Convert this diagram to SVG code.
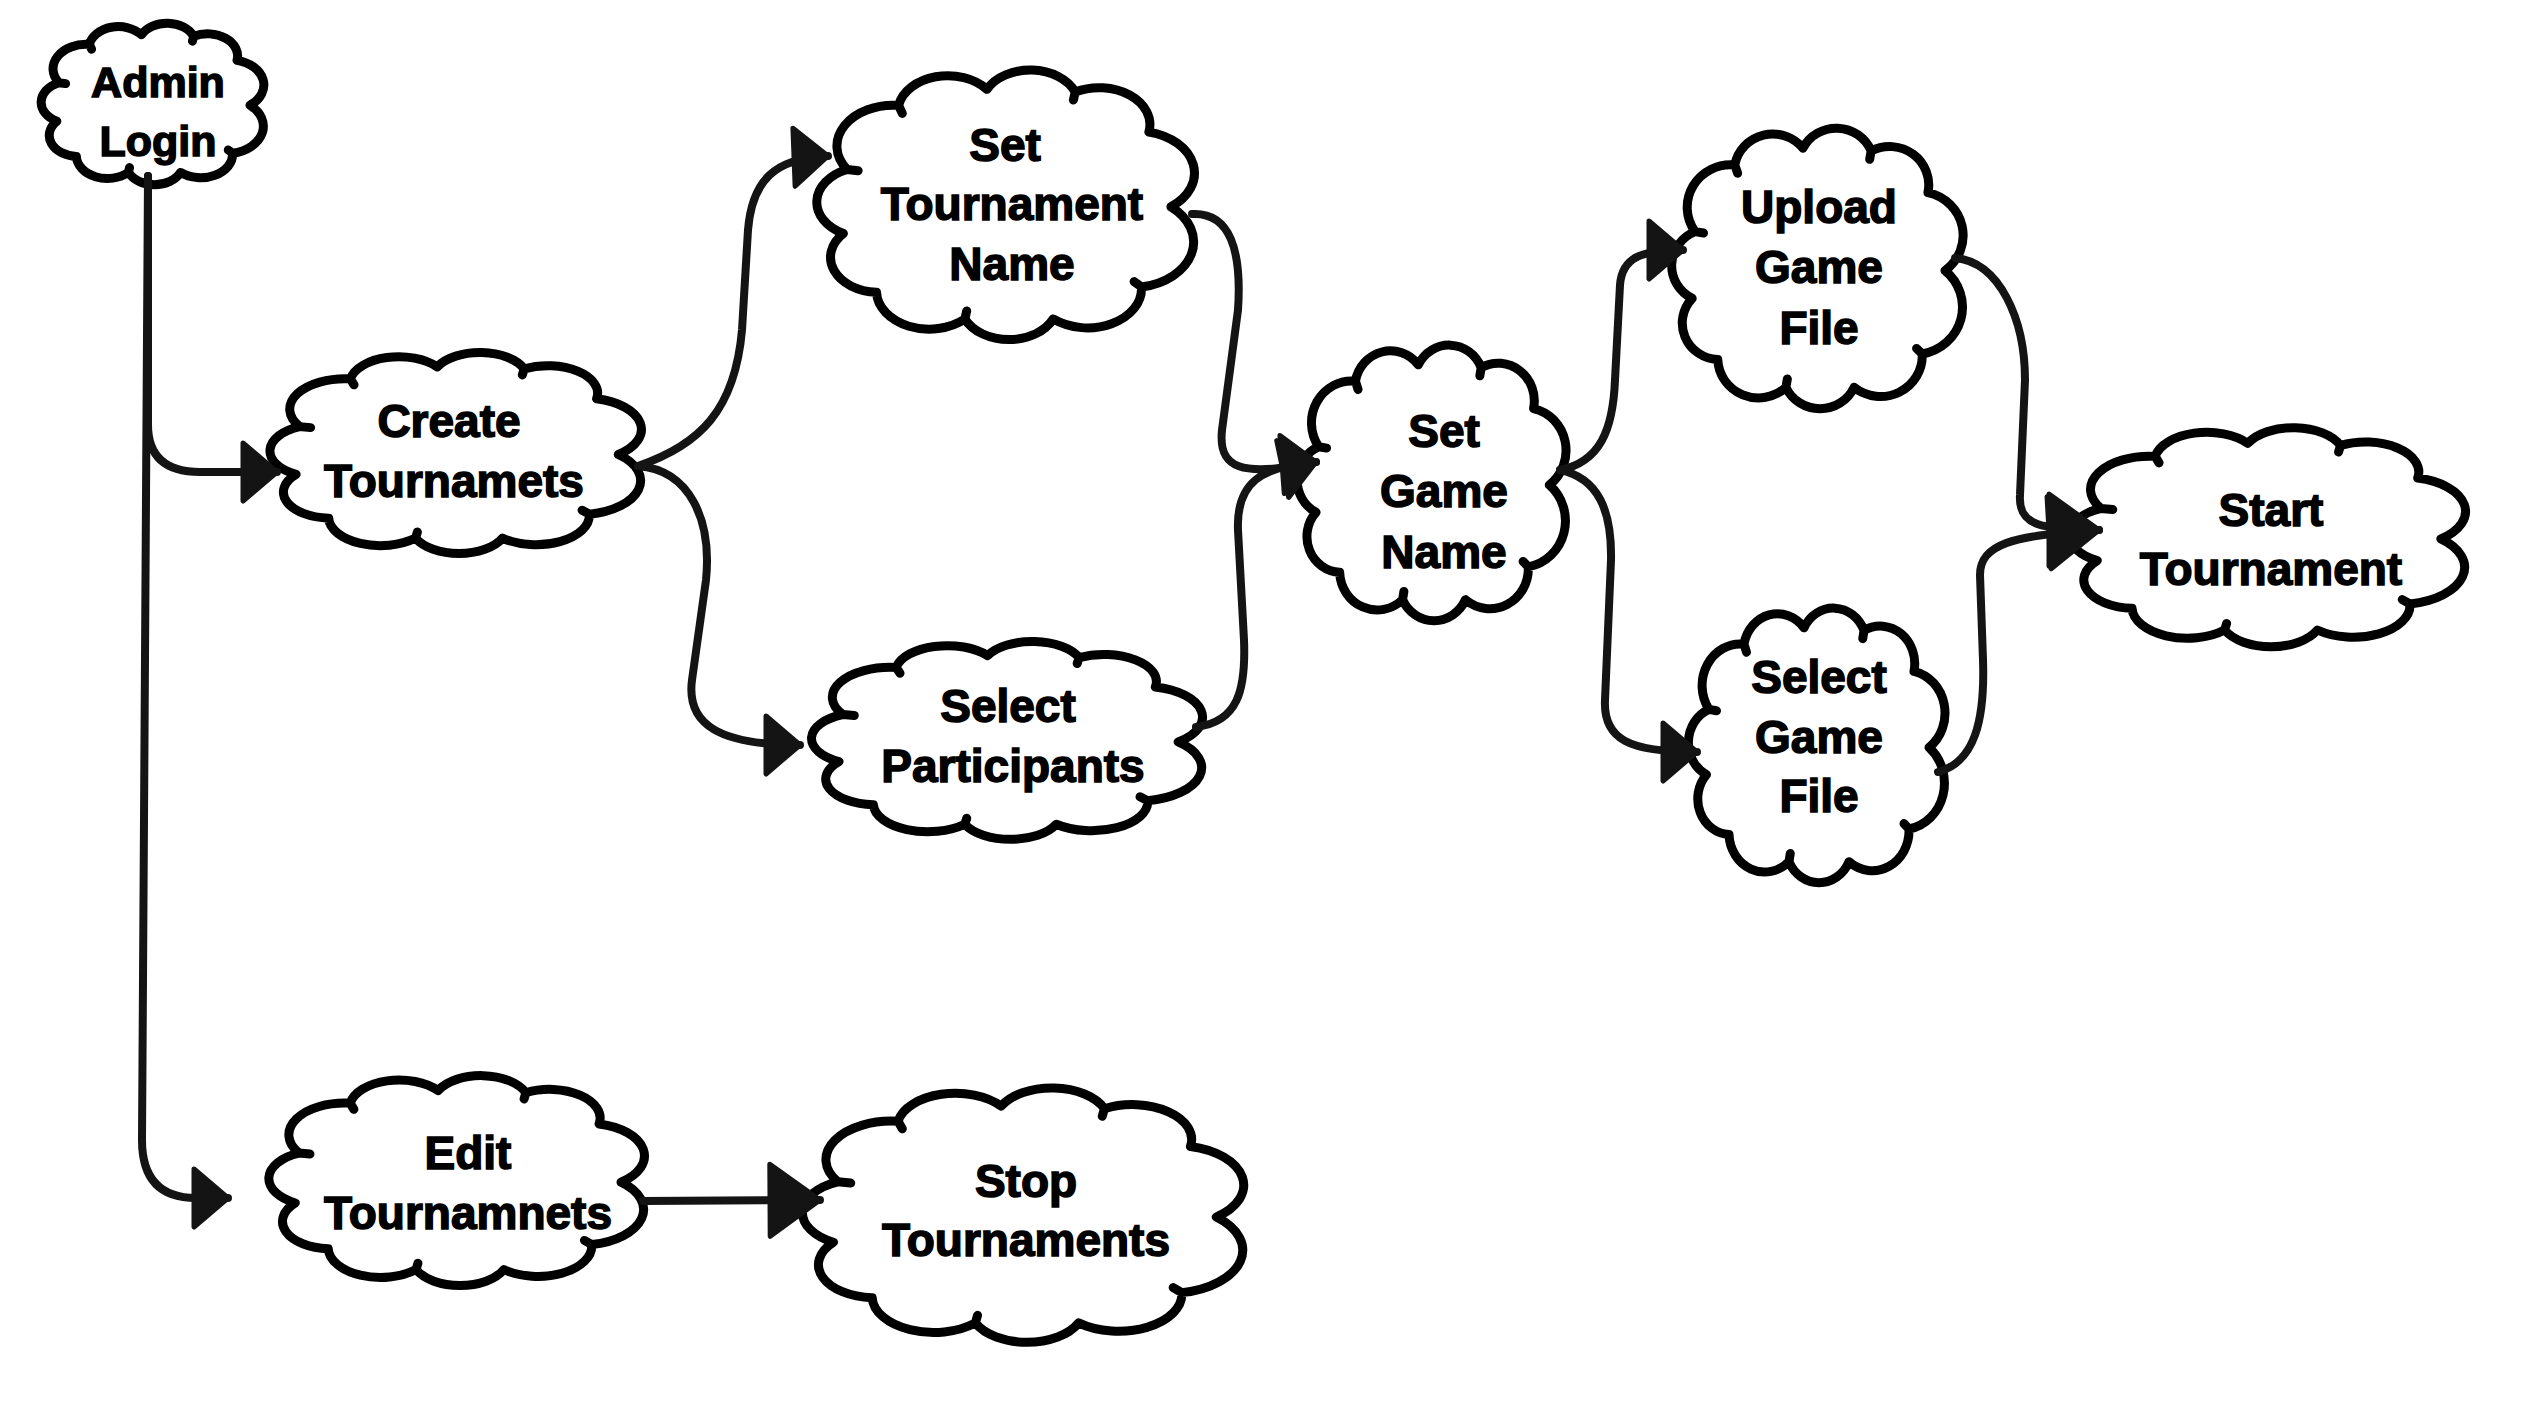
<svg xmlns="http://www.w3.org/2000/svg" xmlns:xlink="http://www.w3.org/1999/xlink" width="2522" height="1408" viewBox="0 0 2522 1408">
<style>
.bg{fill:#fff}
.cloud{fill:#fff;stroke:#000;stroke-width:9;stroke-linejoin:round;stroke-linecap:round}
.lbl{font-family:"Liberation Sans",Arial,sans-serif;font-weight:bold;font-size:46px;fill:#000;stroke:#000;stroke-width:1.5;text-anchor:middle}
.sm{font-size:43px}
.edge{fill:none;stroke:#141414;stroke-width:8;stroke-linecap:round;stroke-linejoin:round}
</style>
<defs>
<path id="cloud" vector-effect="non-scaling-stroke" d="M6 38 A15.3 15.3 0 0 1 20 14 A13.6 13.6 0 0 1 44 8 A13.2 13.2 0 0 1 68 9 A13.8 13.8 0 0 1 88 24 A15.7 15.7 0 0 1 94 52 A17.1 17.1 0 0 1 86 82 A14.7 14.7 0 0 1 62 94 A13.2 13.2 0 0 1 38 94 A14.3 14.3 0 0 1 14 84 A13.1 13.1 0 0 1 5 62 A13.2 13.2 0 0 1 6 38 Z M20 14 L21 17 M68 9 L67.5 12 M86 82 L84 80 M38 94 L38.5 91 M6 38 L9 38.5"/>
<marker id="ah" markerUnits="userSpaceOnUse" markerWidth="40" markerHeight="64" refX="34" refY="30" orient="auto" overflow="visible">
<path d="M0 1 L34 30 L0 59 Z" fill="#141414" stroke="#141414" stroke-width="5" stroke-linejoin="round"/>
</marker>
<marker id="ahL" markerUnits="userSpaceOnUse" markerWidth="56" markerHeight="80" refX="50" refY="37" orient="auto" overflow="visible">
<path d="M0 1 L50 37 L0 73 Z" fill="#141414" stroke="#141414" stroke-width="5" stroke-linejoin="round"/>
</marker>
</defs>
<rect class="bg" x="0" y="0" width="2522" height="1408"/>

<g id="n-admin-login">
<use xlink:href="#cloud" class="cloud" transform="translate(46 22) scale(2.17 1.6)"/>
<text class="lbl sm" x="158" y="97">Admin</text>
<text class="lbl sm" x="158" y="156">Login</text>
</g>
<g id="n-create">
<use xlink:href="#cloud" class="cloud" transform="translate(278 351) scale(3.62 1.99)"/>
<text class="lbl" x="449" y="437">Create</text>
<text class="lbl" x="454" y="497">Tournamets</text>
</g>
<g id="n-set-tournament-name">
<use xlink:href="#cloud" class="cloud" transform="translate(825 68) scale(3.68 2.67)"/>
<text class="lbl" x="1005" y="161">Set</text>
<text class="lbl" x="1012" y="220">Tournament</text>
<text class="lbl" x="1012" y="280">Name</text>
</g>
<g id="n-select-participants">
<use xlink:href="#cloud" class="cloud" transform="translate(820 640) scale(3.81 1.96)"/>
<text class="lbl" x="1008" y="722">Select</text>
<text class="lbl" x="1013" y="782">Participants</text>
</g>
<g id="n-set-game-name">
<use xlink:href="#cloud" class="cloud" transform="translate(1303 343) scale(2.62 2.73)"/>
<text class="lbl" x="1444" y="447">Set</text>
<text class="lbl" x="1444" y="507">Game</text>
<text class="lbl" x="1444" y="568">Name</text>
</g>
<g id="n-upload-game-file">
<use xlink:href="#cloud" class="cloud" transform="translate(1678 126) scale(2.84 2.78)"/>
<text class="lbl" x="1819" y="223">Upload</text>
<text class="lbl" x="1819" y="283">Game</text>
<text class="lbl" x="1819" y="344">File</text>
</g>
<g id="n-select-game-file">
<use xlink:href="#cloud" class="cloud" transform="translate(1694 606) scale(2.5 2.72)"/>
<text class="lbl" x="1819" y="693">Select</text>
<text class="lbl" x="1819" y="753">Game</text>
<text class="lbl" x="1819" y="812">File</text>
</g>
<g id="n-start-tournament">
<use xlink:href="#cloud" class="cloud" transform="translate(2078 426) scale(3.86 2.17)"/>
<text class="lbl" x="2271" y="526">Start</text>
<text class="lbl" x="2271" y="585">Tournament</text>
</g>
<g id="n-edit">
<use xlink:href="#cloud" class="cloud" transform="translate(277 1074) scale(3.66 2.08)"/>
<text class="lbl" x="468" y="1169">Edit</text>
<text class="lbl" x="468" y="1229">Tournamnets</text>
</g>
<g id="n-stop">
<use xlink:href="#cloud" class="cloud" transform="translate(812 1086) scale(4.30 2.52)"/>
<text class="lbl" x="1026" y="1197">Stop</text>
<text class="lbl" x="1026" y="1256">Tournaments</text>
</g>

<g id="connectors">
<path class="edge" marker-end="url(#ah)" d="M148 176 L148 425 Q148 472 200 472 L277 472"/>
<path class="edge" marker-end="url(#ah)" d="M148 176 L142 1140 Q142 1198 196 1198 L228 1198"/>
<path class="edge" marker-end="url(#ah)" d="M638 466 C700 445 735 410 742 330 L748 230 C752 180 775 158 828 156"/>
<path class="edge" marker-end="url(#ah)" d="M638 466 C690 470 712 520 706 580 L692 680 C686 725 720 745 800 745"/>
<path class="edge" marker-end="url(#ah)" d="M1192 214 C1230 212 1242 250 1238 310 L1222 430 C1218 468 1240 478 1316 462"/>
<path class="edge" marker-end="url(#ah)" d="M1196 727 C1238 722 1246 690 1244 640 L1238 530 C1236 482 1262 466 1316 462"/>
<path class="edge" marker-end="url(#ah)" d="M1560 470 C1600 462 1613 430 1615 380 L1620 285 C1622 258 1640 250 1683 250"/>
<path class="edge" marker-end="url(#ah)" d="M1560 470 C1598 478 1612 510 1611 560 L1605 700 C1603 740 1630 752 1697 752"/>
<path class="edge" marker-end="url(#ahL)" d="M1955 258 C2000 262 2025 320 2025 380 L2020 495 C2018 525 2040 530 2099 530"/>
<path class="edge" marker-end="url(#ahL)" d="M1938 772 C1975 762 1985 720 1983 660 L1980 575 C1980 545 2010 535 2099 530"/>
<path class="edge" marker-end="url(#ahL)" d="M643 1201 L820 1200"/>
</g>
</svg>
